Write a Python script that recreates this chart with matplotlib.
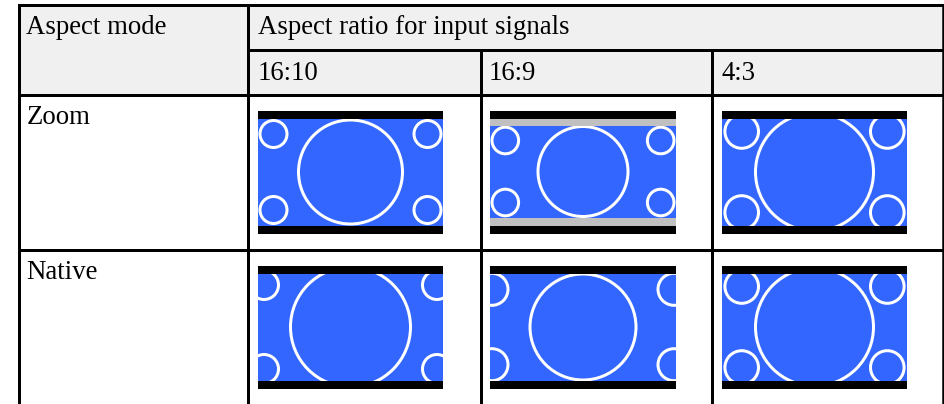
import matplotlib
matplotlib.use('Agg')
import matplotlib.pyplot as plt
from matplotlib.patches import Rectangle, Circle

plt.rcParams['font.family'] = ['Liberation Serif', 'DejaVu Serif']

# table text
corner_label = 'Aspect mode'
group_label = 'Aspect ratio for input signals'
ratios = ['16:10', '16:9', '4:3']
modes = ['Zoom', 'Native']

# picture in each cell: big circle radius, corner circle radius, corner offsets
# (dx, dy) from the picture centre, and whether grey bars are shown
pictures = {
    ('Zoom', '16:10'): dict(big=52, small=13.5, dx=77, dy=38, grey=False),
    ('Zoom', '16:9'): dict(big=45, small=13.3, dx=77.7, dy=31, grey=True),
    ('Zoom', '4:3'): dict(big=59, small=16.8, dx=72.8, dy=40.5, grey=False),
    ('Native', '16:10'): dict(big=60, small=14.5, dx=86.5, dy=42, grey=False),
    ('Native', '16:9'): dict(big=53, small=16, dx=91, dy=37.7, grey=False),
    ('Native', '4:3'): dict(big=59, small=16.8, dx=72.8, dy=40.5, grey=False),
}

W, H = 944, 404
fig = plt.figure(figsize=(W / 100, H / 100), dpi=100)
ax = fig.add_axes([0, 0, 1, 1])
ax.set_xlim(0, W)
ax.set_ylim(H, 0)
ax.axis('off')

lw = 3 * 72 / 100
blue = '#3366ff'

# grid positions (pixels)
xl, xr = 18.5, 942.5
col_x = [xl, 247.5, 480.5, 712, xr]
y_top, y_sub, y_head = 5.3, 49.7, 95
row_y = [95, 250.3, 405]

# header background
ax.add_patch(Rectangle((xl, y_top), xr - xl, y_head - y_top, facecolor='#f0f0f0', edgecolor='none'))

fs = 19.3
ax.text(26.5, 34.5, corner_label, fontsize=fs, va='baseline', ha='left')
ax.text(258.5, 34.5, group_label, fontsize=fs, va='baseline', ha='left')
text_x = [257.5, 488.5, 721]
for i, r in enumerate(ratios):
    ax.text(text_x[i], 79.5, r, fontsize=fs, va='baseline', ha='left')
for j, m in enumerate(modes):
    ax.text(26.5, row_y[j] + 29, m, fontsize=fs, va='baseline', ha='left')

# pictures
img_x = [(258, 443), (490, 676), (722, 907)]
img_y = [(110.5, 233.5), (265.5, 388.5)]
bar = 8
for j, m in enumerate(modes):
    y0, y1 = img_y[j]
    for i, r in enumerate(ratios):
        x0, x1 = img_x[i]
        p = pictures[(m, r)]
        ax.add_patch(Rectangle((x0, y0), x1 - x0, y1 - y0, facecolor='black', edgecolor='none'))
        b0, b1 = y0 + bar, y1 - bar
        if p['grey']:
            ax.add_patch(Rectangle((x0, b0), x1 - x0, b1 - b0, facecolor='#c0c0c0', edgecolor='none'))
            b0, b1 = b0 + 7, b1 - 8
        area = Rectangle((x0, b0), x1 - x0, b1 - b0, facecolor=blue, edgecolor='none')
        ax.add_patch(area)
        cx, cy = (x0 + x1) / 2, (b0 + b1) / 2
        circles = [Circle((cx, cy), p['big'])]
        for sx in (-1, 1):
            for sy in (-1, 1):
                circles.append(Circle((cx + sx * p['dx'], cy + sy * p['dy']), p['small']))
        for c in circles:
            c.set_facecolor('none')
            c.set_edgecolor('white')
            c.set_linewidth(lw)
            ax.add_patch(c)
            c.set_clip_path(area)

# grid lines
def hline(y, a, b, w=lw):
    ax.plot([a, b], [y, y], color='black', lw=w, solid_capstyle='projecting')

def vline(x, a, b, w=lw):
    ax.plot([x, x], [a, b], color='black', lw=w, solid_capstyle='projecting')

hline(y_top, xl, xr)
hline(y_sub, col_x[1], xr)
hline(y_head, xl, xr)
hline(row_y[1], xl, xr)
vline(xl, y_top, H + 5)
vline(col_x[1], y_top, H + 5)
vline(col_x[2], y_sub, H + 5)
vline(col_x[3], y_sub, H + 5)
vline(xr, y_top, H + 5, w=2.5 * 72 / 100)

fig.savefig('out.png', dpi=100)
